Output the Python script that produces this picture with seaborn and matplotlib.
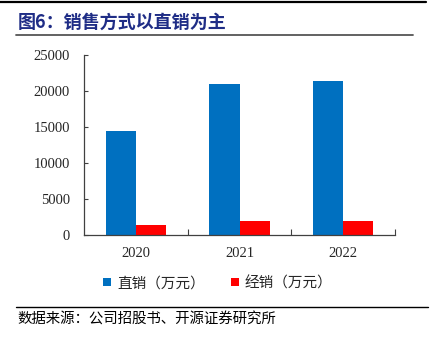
import matplotlib
matplotlib.use("Agg")
import matplotlib.pyplot as plt
from matplotlib.lines import Line2D
import seaborn as sns
import pandas as pd

years = ["2020", "2021", "2022"]
direct_sales = [14400, 20900, 21400]
distribution_sales = [1400, 1950, 1900]
series_names = ["直销（万元）", "经销（万元）"]
y_ticks = [0, 5000, 10000, 15000, 20000, 25000]

df = pd.DataFrame({
    "year": years * 2,
    "value": direct_sales + distribution_sales,
    "series": [series_names[0]] * len(years) + [series_names[1]] * len(years),
})

sns.set_theme(style="white")
plt.rcParams["font.family"] = ["Noto Sans CJK SC", "DejaVu Sans"]

fig = plt.figure(figsize=(4.3, 3.37), dpi=100)
ax = fig.add_axes([0.195, 0.303, 0.724, 0.534])

sns.barplot(data=df, x="year", y="value", hue="series",
            palette=["#0070C0", "#FF0000"], width=0.58, gap=0,
            saturation=1, linewidth=0, ax=ax)

ax.set_xlim(-0.5, 2.5)
ax.set_ylim(0, 25000)
ax.set_yticks(y_ticks)
ax.set_xlabel("")
ax.set_ylabel("")

serif = ["Liberation Serif", "DejaVu Serif"]
ax.set_yticklabels([str(v) for v in y_ticks], family=serif, fontsize=10.5)
ax.set_xticks([0, 1, 2])
ax.set_xticklabels(years, family=serif, fontsize=10.5)
ax.tick_params(axis="x", which="major", length=0, pad=9)
ax.tick_params(axis="y", which="major", direction="in", length=3, width=0.8,
               color="#404040", pad=10, left=True)
ax.set_xticks([0.5, 1.5, 2.5], minor=True)
ax.tick_params(axis="x", which="minor", direction="in", length=4, width=0.8,
               color="#404040", bottom=True)

for side in ["top", "right"]:
    ax.spines[side].set_visible(False)
for side in ["left", "bottom"]:
    ax.spines[side].set_color("#404040")
    ax.spines[side].set_linewidth(0.9)

handles, labels = ax.get_legend_handles_labels()
ax.get_legend().remove()
fig.legend(handles, labels, loc="center", bbox_to_anchor=(0.507, 0.16),
           ncol=2, frameon=False, fontsize=10.5, handlelength=0.55,
           handleheight=0.55, handletextpad=0.4, columnspacing=1.8)

# header and footer rules
fig.add_artist(Line2D([0.0, 0.99], [0.9926, 0.9926], color="black", lw=1.6,
                      transform=fig.transFigure))
fig.add_artist(Line2D([0.037, 0.96], [0.896, 0.896], color="#555555", lw=1.3,
                      transform=fig.transFigure))
fig.add_artist(Line2D([0.037, 0.995], [0.089, 0.089], color="black", lw=1.0,
                      transform=fig.transFigure))

fig.text(0.042, 0.933, "图6：销售方式以直销为主", color="#1F2D86",
         fontsize=13, fontweight="bold", va="center", ha="left")
fig.text(0.04, 0.055, "数据来源：公司招股书、开源证券研究所", color="black",
         fontsize=10.4, va="center", ha="left")

fig.savefig("out.png", dpi=100)
